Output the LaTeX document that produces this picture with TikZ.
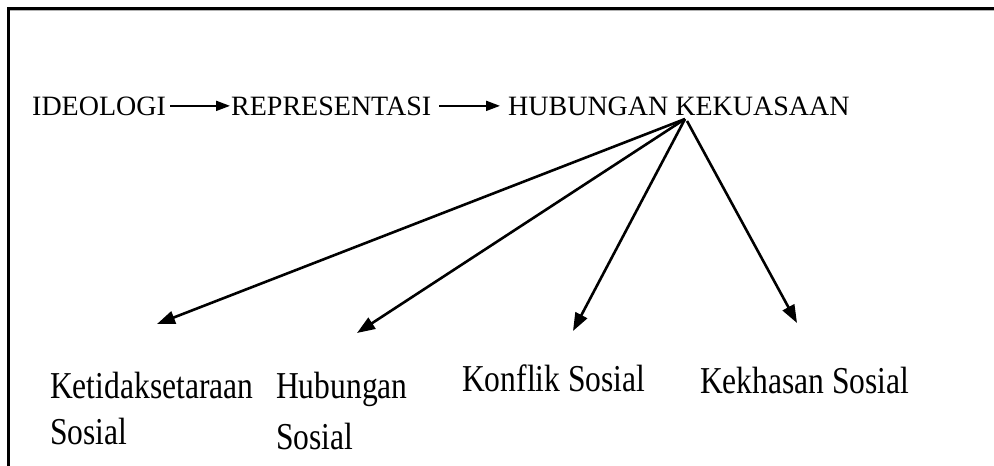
\documentclass[tikz,border=0pt]{standalone}
\usepackage{fontspec}
\setmainfont{Liberation Serif}
\newfontfamily\talltext[FakeStretch=0.83]{Liberation Serif}
\usetikzlibrary{arrows.meta}
\begin{document}
\begin{tikzpicture}[x=1pt,y=-1pt,
  toptext/.style={anchor=base west,inner sep=0pt,font=\fontsize{28}{32}\selectfont},
  bottext/.style={anchor=north west,inner sep=0pt,align=left,font=\talltext\fontsize{38}{46}\selectfont},
  flowarrow/.style={line width=2pt,-{Triangle[length=14pt,width=10pt]}},
  fanarrow/.style={line width=2.6pt,-{Triangle[length=18pt,width=13pt]}},
  border/.style={line width=2.2pt,line cap=rect}]
\useasboundingbox (0,0) rectangle (994,466);
% frame (clipped on right and bottom)
\draw[gray!60,line width=1pt] (8.5,10.8) -- (994,10.8);
\draw[border] (994,8.5) -- (8.5,8.5) -- (8.5,470);
% top row
\node[toptext] (ideo) at (32,115) {IDEOLOGI};
\node[toptext] (repr) at (231,115) {REPRESENTASI};
\node[toptext] (hub) at (508,115) {HUBUNGAN KEKUASAAN};
\draw[flowarrow,shorten <=4pt,shorten >=1pt] (ideo.east) -- (repr.west);
\draw[flowarrow,shorten <=8pt,shorten >=8pt] (repr.east) -- (hub.west);
% fan
\coordinate (h) at (685,119);
\coordinate (t1) at (157,324);
\coordinate (t2) at (357,333);
\coordinate (t3) at (573,331);
\coordinate (t4) at (797,323);
\draw[fanarrow] (h) -- (t1);
\draw[fanarrow] (h) -- (t2);
\draw[fanarrow] (h) -- (t3);
\draw[fanarrow] ([xshift=2pt,yshift=-2pt]h) -- (t4);
% bottom row
\node[bottext] (ketid) at (50,372) {Ketidaksetaraan\\Sosial};
\node[bottext] (hubsos) at (276,372) {Hubungan\\[5pt]Sosial};
\node[bottext] (konf) at (462,365) {Konflik Sosial};
\node[bottext] (khas) at (700,367) {Kekhasan Sosial};
\end{tikzpicture}
\end{document}
